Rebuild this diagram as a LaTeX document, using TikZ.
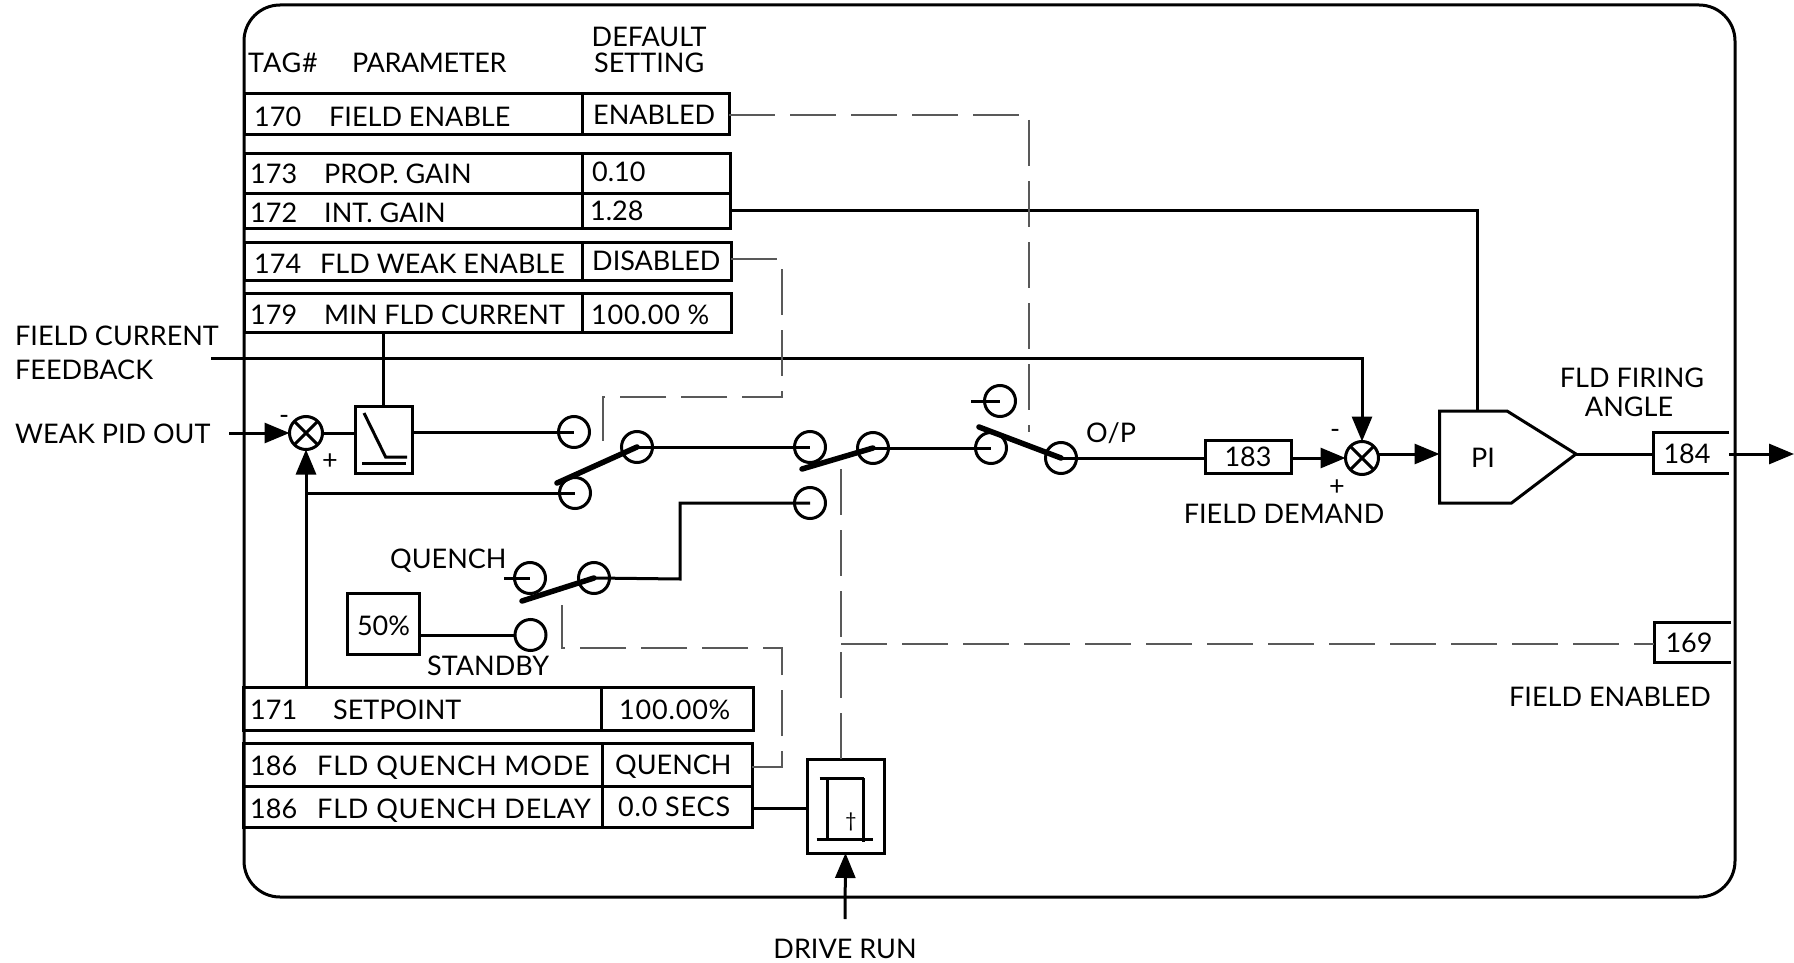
\documentclass[tikz,border=0pt]{standalone}
\usepackage{fontspec}
\setmainfont{Lato}
\usepackage{xcolor}
\usepackage{tikz}
\usetikzlibrary{arrows.meta,positioning,calc}

\begin{document}
\begin{tikzpicture}[
  x=1pt, y=-1pt,
  font=\fontsize{27}{27}\selectfont,
  cell/.style={draw, line width=3pt, anchor=north west, inner sep=0pt, outer sep=0pt},
  boxnode/.style={draw, line width=3pt, inner sep=0pt, outer sep=0pt},
  lbl/.style={inner sep=0pt, anchor=base west},
  lblc/.style={inner sep=0pt, anchor=base},
  widelbl/.style={lbl, font=\fontsize{27}{27}\selectfont\addfontfeature{LetterSpace=3}},
  narrowlbl/.style={lbl, font=\fontsize{27}{27}\selectfont\addfontfeature{LetterSpace=-1.5}},
  wire/.style={line width=3pt},
  ctrl/.style={line width=1.5pt, black!65, dash pattern=on 46pt off 15pt},
  arr/.style={wire, -{Triangle[length=25pt,width=20pt]}},
  contact/.style={draw, circle, line width=3pt, minimum size=31pt, inner sep=0pt, outer sep=0pt},
  blade/.style={line width=5.5pt, line cap=round},
  sumnode/.style={draw, circle, line width=3pt, minimum size=33pt, inner sep=0pt, outer sep=0pt,
    path picture={\draw[wire] (path picture bounding box.north west) -- (path picture bounding box.south east)
      (path picture bounding box.north east) -- (path picture bounding box.south west);}}
]
\useasboundingbox (0,0) rectangle (1794,963);
% outer frame
\draw[wire, rounded corners=36pt] (244,5) rectangle (1735,897);
% parameter table, top
\node[widelbl] (ttag) at (248,73) {TAG\#};
\node[narrowlbl] (tpar) at (352,73) {PARAMETER};
\node[lbl] (tdef) at (591.5,47) {DEFAULT};
\node[lbl] (tset) at (594,73) {SETTING};
\node[cell, minimum width=338pt, minimum height=41pt] (r170) at (244,94) {};
\node[cell, minimum width=147pt, minimum height=41pt] (v170) at (582,94) {};
\node[cell, minimum width=338pt, minimum height=39pt] (r173) at (244,154) {};
\node[cell, minimum width=148pt, minimum height=39pt] (v173) at (582,154) {};
\node[cell, minimum width=338pt, minimum height=35pt] (r172) at (244,193) {};
\node[cell, minimum width=148pt, minimum height=35pt] (v172) at (582,193) {};
\node[cell, minimum width=338pt, minimum height=38pt] (r174) at (244,242) {};
\node[cell, minimum width=149pt, minimum height=38pt] (v174) at (582,242) {};
\node[cell, minimum width=338pt, minimum height=39pt] (r179) at (244,293) {};
\node[cell, minimum width=149pt, minimum height=39pt] (v179) at (582,293) {};
\node[lbl] (n170) at (254,127) {170};
\node[lbl] (p170) at (329,127) {FIELD ENABLE};
\node[lbl] (s170) at (593,124.5) {ENABLED};
\node[lbl] (n173) at (250,183) {173};
\node[lbl] (p173) at (324,183) {PROP. GAIN};
\node[lbl] (s173) at (592,182) {0.10};
\node[lbl] (n172) at (250,222) {172};
\node[lbl] (p172) at (324,222) {INT. GAIN};
\node[lbl] (s172) at (590,220) {1.28};
\node[lbl] (n174) at (254,273) {174};
\node[lbl] (p174) at (320,273) {FLD WEAK ENABLE};
\node[lbl] (s174) at (592,270) {DISABLED};
\node[lbl] (n179) at (250,324) {179};
\node[lbl] (p179) at (324,324) {MIN FLD CURRENT};
\node[widelbl] (s179) at (591,324) {100.00 \%};
% parameter table, bottom
\node[cell, minimum width=358pt, minimum height=43pt] (r171) at (243,687) {};
\node[cell, minimum width=152pt, minimum height=43pt] (v171) at (601,687) {};
\node[cell, minimum width=359pt, minimum height=43pt] (r186a) at (243,743) {};
\node[cell, minimum width=150pt, minimum height=43pt] (v186a) at (602,743) {};
\node[cell, minimum width=359pt, minimum height=41pt] (r186b) at (243,786) {};
\node[cell, minimum width=150pt, minimum height=41pt] (v186b) at (602,786) {};
\node[lbl] (n171) at (250,719) {171};
\node[lbl] (p171) at (333,719) {SETPOINT};
\node[widelbl] (s171) at (619,719) {100.00\%};
\node[lbl] (n186a) at (250,775) {186};
\node[widelbl] (p186a) at (317,775) {FLD QUENCH MODE};
\node[lbl] (s186a) at (615,774) {QUENCH};
\node[lbl] (n186b) at (250,818) {186};
\node[widelbl] (p186b) at (317,818) {FLD QUENCH DELAY};
\node[widelbl] (s186b) at (618,816) {0.0 SECS};
% outside labels
\node[lbl] (lfb) at (15,345) {FIELD CURRENT};
\node[lbl] (lfb2) at (15,379) {FEEDBACK};
\node[lbl] (lweak) at (15,443) {WEAK PID OUT};
\node[lblc] (ldrive) at (845,958) {DRIVE RUN};
% summing points and limiter
\node[sumnode] (sum1) at (306,433) {};
\node[lbl] (sm1) at (279,424) {-};
\node[lbl] (sp1) at (322,469) {+};
\node[boxnode, minimum width=57pt, minimum height=67pt] (lim) at (383.5,439.5) {};
\draw[wire] (364,413) -- (385.6,457) -- (407,457);
\draw[wire] (362,463) -- (406,463);
\node[sumnode] (sum2) at (1362,458) {};
\node[lbl] (sm2) at (1330,438) {-};
\node[lbl] (sp2) at (1329,495) {+};
% contacts
\node[contact] (c1) at (574,432) {};
\node[contact] (c2) at (575,493) {};
\node[contact] (c3) at (637,447) {};
\node[contact] (c4) at (810,447) {};
\node[contact] (c5) at (873,448) {};
\node[contact] (c6) at (810,503) {};
\node[contact] (c7) at (991,448) {};
\node[contact] (c9) at (1000,401) {};
\node[contact] (c10) at (1061,458) {};
\node[contact] (c8) at (530,578) {};
\node[contact] (c11) at (594,578) {};
\node[contact] (c12) at (530.5,635) {};
% switch blades
\coordinate (b1) at (557,483);
\coordinate (b2) at (802,469);
\coordinate (b3) at (979,427);
\coordinate (b4) at (522,601);
\draw[blade] (b1) -- (c3.center);
\draw[blade] (b2) -- (c5.center);
\draw[blade] (b3) -- (c10.center);
\draw[blade] (b4) -- (c11.center);
% small boxes
\node[boxnode, minimum width=86pt, minimum height=33pt] (b183) at (1248,456.5) {};
\node[lblc] (t183) at (1248,466) {183};
\node[boxnode, minimum width=72pt, minimum height=61pt] (b50) at (383.5,623.5) {};
\node[lblc] (t50) at (383.5,635) {50\%};
\node[boxnode, minimum width=77pt, minimum height=94pt] (tmr) at (845.5,806) {};
\draw[wire] (819.6,778) -- (864,778);
\draw[wire] (827.6,778) -- (827.6,839);
\draw[wire] (863,778) -- (863,842);
\draw[wire] (816.5,839) -- (873,839);
\node[inner sep=0pt, font=\fontsize{20}{20}\selectfont] (tdag) at (851,822) {†};
% PI block
\draw[wire] (1439.5,411) -- (1507,411) -- (1576,454) -- (1511.5,503) -- (1439.5,503) -- cycle;
\coordinate (piin) at (1439.5,454);
\coordinate (piout) at (1576,454);
\coordinate (pitop) at (1477,411);
\node[lbl] (tpi) at (1471,467) {PI};
% output tags
\draw[wire] (1729,432) -- (1653,432) -- (1653,473) -- (1729,473);
\node[lblc] (t184) at (1687,463) {184};
\coordinate (in184) at (1653,454);
\coordinate (out184) at (1729,454);
\coordinate (end184) at (1794,454);
\draw[wire] (1731,622) -- (1654,622) -- (1654,662) -- (1731,662);
\node[lblc] (t169) at (1689,652) {169};
\coordinate (in169) at (1654,644);
% signal labels
\node[lbl] (lop) at (1086,442) {O/P};
\node[lblc] (ldem) at (1284,523.5) {FIELD DEMAND};
\node[lblc] (lfir) at (1632,387) {FLD FIRING};
\node[lblc] (lang) at (1629,416) {ANGLE};
\node[lbl] (lena) at (1509,706) {FIELD ENABLED};
\node[lbl] (lque) at (390,568) {QUENCH};
\node[lbl] (lsta) at (427,675.5) {STANDBY};
% signal wires
\coordinate (fbin) at (211,358);
\coordinate (weakin) at (229,433);
\coordinate (spin) at (306,687);
\coordinate (st9) at (971,401);
\coordinate (st8) at (504,578);
\draw[wire] (lim.north) -- (lim.north |- r179.south);
\draw[arr] (fbin) -| (sum2.north);
\draw[arr] (weakin) -- (sum1.west);
\draw[arr] (spin) -- (sum1.south);
\draw[wire] (306,493) -- (c2.center);
\draw[wire] (sum1.east) -- (sum1.east -| lim.west);
\draw[wire] (lim.east |- c1.center) -- (c1.center);
\draw[wire] (c3.center) -- (c4.center);
\draw[wire] (c5.center) -- (c7.center);
\draw[wire] (c6.center) -- (680,503) -- (680,579) -- (c11.center);
\draw[wire] (st9) -- (c9.center);
\draw[wire] (st8) -- (c8.center);
\draw[wire] (b50.east |- c12.west) -- (c12.west);
\draw[wire] (c10.center) -- (b183.west |- c10.center);
\draw[arr] (b183.east |- sum2.west) -- (sum2.west);
\draw[arr] (sum2.east |- piin) -- (piin);
\draw[wire] (piout) -- (in184);
\draw[wire] (v172.east |- 0,210) -| (pitop);
\draw[arr] (out184) -- (end184);
\draw[wire] (v186b.east |- 0,808) -- (tmr.west |- 0,808);
\draw[arr] (845,919) -- (tmr.south);
% control lines
\draw[ctrl] (v170.east |- 0,115) -| (1029,432);
\draw[ctrl] (v174.east |- 0,259) -| (782,397) -- (603,397) -- (603,443);
\draw[ctrl] (v186a.east |- 0,767) -| (782,648) -- (562,648) -- (562,600);
\draw[ctrl] (841,469) -- (tmr.north -| 841,0);
\draw[ctrl] (841,644) -- (in169);
\end{tikzpicture}
\end{document}
